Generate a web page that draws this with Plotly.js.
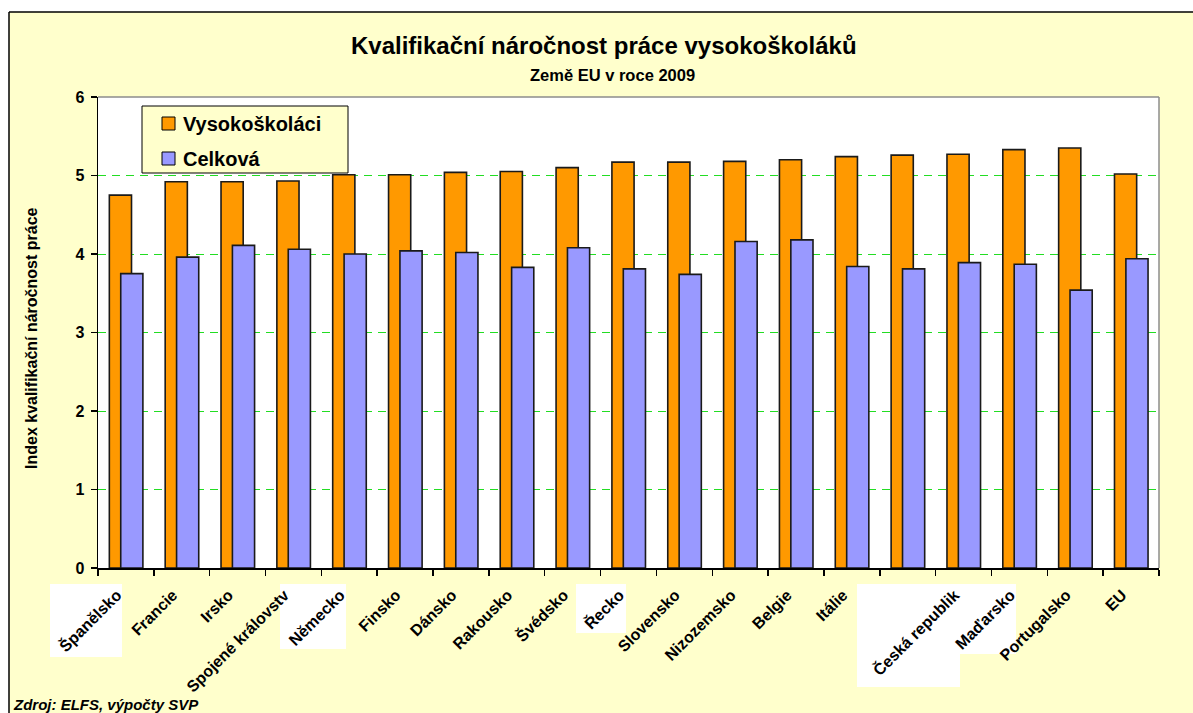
<!DOCTYPE html>
<html>
<head>
<meta charset="utf-8">
<script src="https://cdn.plot.ly/plotly-3.0.1.min.js"></script>
<style>
  html, body { margin: 0; padding: 0; background: #ffffff; }
  #chart { width: 1193px; height: 713px; }
</style>
</head>
<body>
<div id="chart"></div>
<script>
// ---- data ----
const countries = ["Španělsko", "Francie", "Irsko", "Spojené královstv", "Německo", "Finsko", "Dánsko",
  "Rakousko", "Švédsko", "Řecko", "Slovensko", "Nizozemsko", "Belgie", "Itálie", "",
  "Česká republik", "Maďarsko", "Portugalsko", "EU"];
const vysokoskolaci = [4.75, 4.92, 4.92, 4.93, 5.01, 5.01, 5.04, 5.05, 5.10, 5.17, 5.17, 5.18, 5.20, 5.24, 5.26, 5.27, 5.33, 5.35, 5.02];
const celkova = [3.75, 3.96, 4.11, 4.06, 4.00, 4.04, 4.02, 3.83, 4.08, 3.81, 3.74, 4.16, 4.18, 3.84, 3.81, 3.89, 3.87, 3.54, 3.94];
const seriesNames = ["Vysokoškoláci", "Celková"];
const seriesColors = ["#FF9900", "#9999FF"];
const yTicks = [0, 1, 2, 3, 4, 5, 6];

// ---- layout helpers (pixel -> paper) ----
const W = 1193, H = 713;
const M = { l: 98, r: 34, t: 97, b: 145 };
const PW = W - M.l - M.r, PH = H - M.t - M.b;
const px = x => (x - M.l) / PW;
const py = y => (H - M.b - y) / PH;

const FONT = "Arial, 'Liberation Sans', sans-serif";
const idx = countries.map((c, i) => i);

const traces = [
  {
    type: "bar", name: seriesNames[0], x: idx, y: vysokoskolaci,
    offset: -0.297, width: 0.397,
    marker: { color: seriesColors[0], line: { color: "#1a1a1a", width: 1.6 } },
    hoverinfo: "y"
  },
  {
    type: "bar", name: seriesNames[1], x: idx, y: celkova,
    offset: -0.093, width: 0.397,
    marker: { color: seriesColors[1], line: { color: "#1a1a1a", width: 1.6 } },
    hoverinfo: "y"
  }
];

function pxRect(x0, x1, y0, y1, fill, line, layer) {
  return { type: "rect", xref: "paper", yref: "paper", layer: layer || "below",
    x0: px(x0), x1: px(x1), y0: py(y1), y1: py(y0),
    fillcolor: fill, line: line || { width: 0 } };
}

const shapes = [
  // white outside the chart frame
  pxRect(0, 9, 0, H, "#ffffff"),
  pxRect(0, W, 0, 12, "#ffffff"),
  // frame lines
  { type: "line", xref: "paper", yref: "paper", layer: "above", x0: px(9), x1: px(9), y0: py(H + 5), y1: py(12), line: { color: "#000000", width: 1.5 } },
  { type: "line", xref: "paper", yref: "paper", layer: "above", x0: px(9), x1: px(W + 5), y0: py(12), y1: py(12), line: { color: "#000000", width: 1.5 } },
  // white label boxes
  pxRect(50, 122, 584, 657, "#ffffff"),
  pxRect(280, 346, 584, 649, "#ffffff"),
  pxRect(576, 626, 584, 633, "#ffffff"),
  pxRect(857, 960, 584, 687, "#ffffff"),
  pxRect(857, 1016, 584, 654, "#ffffff"),
  // plot-area border (top and right, grey)
  { type: "line", xref: "paper", yref: "paper", layer: "above", x0: 0, x1: 1, y0: 1, y1: 1, line: { color: "#8c8c8c", width: 1.5 } },
  { type: "line", xref: "paper", yref: "paper", layer: "above", x0: 1, x1: 1, y0: 0, y1: 1, line: { color: "#8c8c8c", width: 1.5 } },
  // legend box and swatches
  pxRect(142, 348, 106, 173, "#FFFFCC", { color: "#000000", width: 1 }, "above"),
  pxRect(162, 175, 117, 130, seriesColors[0], { color: "#000000", width: 1 }, "above"),
  pxRect(162, 175, 152, 165, seriesColors[1], { color: "#000000", width: 1 }, "above")
];

const annotations = [
  { text: "<b>Kvalifikační náročnost práce vysokoškoláků</b>", xref: "paper", yref: "paper",
    x: px(604), y: py(45), xanchor: "center", yanchor: "middle", showarrow: false,
    font: { family: FONT, size: 24, color: "#000000" } },
  { text: "<b>Země EU v roce 2009</b>", xref: "paper", yref: "paper",
    x: px(612), y: py(75), xanchor: "center", yanchor: "middle", showarrow: false,
    font: { family: FONT, size: 16.5, color: "#000000" } },
  { text: "<b>Index kvalifikační náročnost práce</b>", xref: "paper", yref: "paper",
    x: px(31), y: py(338), xanchor: "center", yanchor: "middle", textangle: -90, showarrow: false,
    font: { family: FONT, size: 16, color: "#000000" } },
  { text: "<b><i>Zdroj: ELFS, výpočty SVP</i></b>", xref: "paper", yref: "paper",
    x: px(11), y: py(715), xanchor: "left", yanchor: "bottom", showarrow: false,
    font: { family: FONT, size: 15, color: "#000000" } },
  // legend texts
  { text: "<b>" + seriesNames[0] + "</b>", xref: "paper", yref: "paper",
    x: px(181), y: py(124), xanchor: "left", yanchor: "middle", showarrow: false,
    font: { family: FONT, size: 20, color: "#000000" } },
  { text: "<b>" + seriesNames[1] + "</b>", xref: "paper", yref: "paper",
    x: px(181), y: py(159), xanchor: "left", yanchor: "middle", showarrow: false,
    font: { family: FONT, size: 20, color: "#000000" } }
];

const layout = {
  width: W, height: H,
  margin: M,
  paper_bgcolor: "#FFFFCC",
  plot_bgcolor: "#ffffff",
  barmode: "overlay",
  showlegend: false,
  xaxis: {
    range: [-0.5, countries.length - 0.5],
    tickmode: "array", tickvals: idx, ticktext: countries.map(c => "<b>" + c + "</b>"),
    ticks: "", tickangle: -45,
    ticklabelstandoff: 10, ticklabelshift: -9,
    tickfont: { family: FONT, size: 16, color: "#000000" },
    showgrid: false, zeroline: false,
    showline: true, linecolor: "#000000", linewidth: 1.5,
    minor: { ticks: "outside", tick0: -0.5, dtick: 1, ticklen: 6, tickcolor: "#000000", tickwidth: 1.5, showgrid: false },
    fixedrange: true
  },
  yaxis: {
    range: [0, 6],
    tickmode: "array", tickvals: yTicks, ticktext: yTicks.map(v => "<b>" + v + "</b>"),
    ticks: "outside", ticklen: 6, tickwidth: 1.5, tickcolor: "#000000",
    ticklabelstandoff: 3,
    tickfont: { family: FONT, size: 16, color: "#000000" },
    showgrid: true, gridcolor: "#22DD22", gridwidth: 1, griddash: "8px,6px",
    zeroline: false,
    showline: true, linecolor: "#000000", linewidth: 1.5,
    fixedrange: true
  },
  shapes: shapes,
  annotations: annotations
};

Plotly.newPlot("chart", traces, layout, { displayModeBar: false, staticPlot: true });
</script>
</body>
</html>
